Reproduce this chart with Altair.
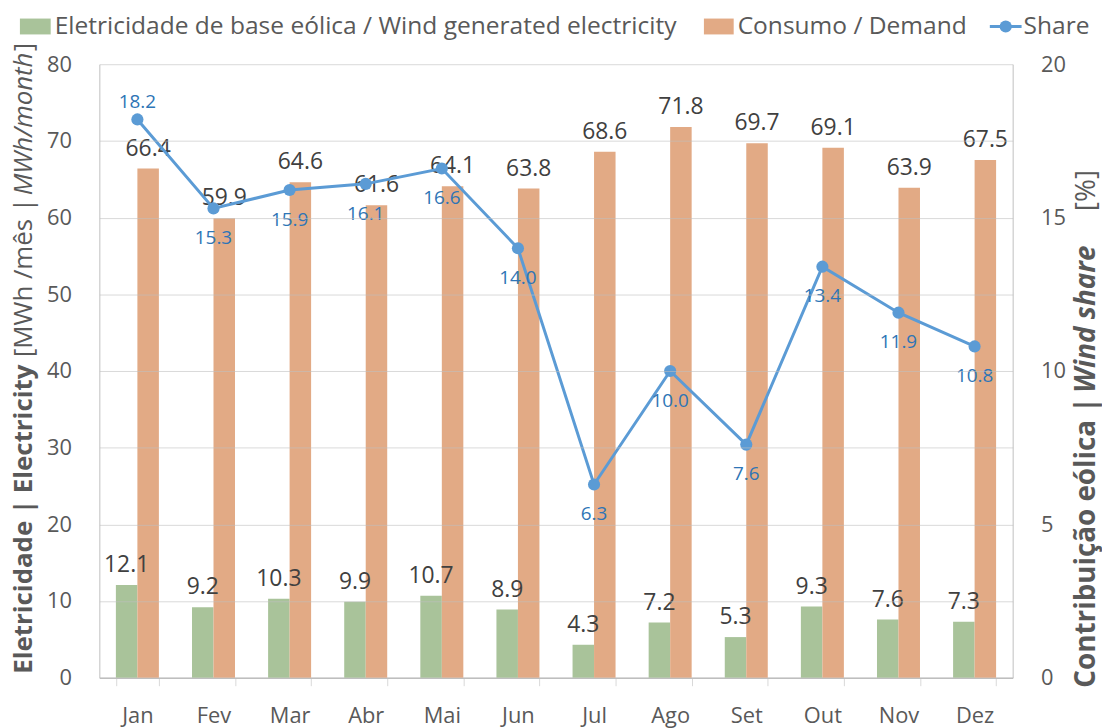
import altair as alt
import pandas as pd

months = ["Jan", "Fev", "Mar", "Abr", "Mai", "Jun", "Jul", "Ago", "Set", "Out", "Nov", "Dez"]
wind = [12.1, 9.2, 10.3, 9.9, 10.7, 8.9, 4.3, 7.2, 5.3, 9.3, 7.6, 7.3]
demand = [66.4, 59.9, 64.6, 61.6, 64.1, 63.8, 68.6, 71.8, 69.7, 69.1, 63.9, 67.5]
share = [18.2, 15.3, 15.9, 16.1, 16.6, 14.0, 6.3, 10.0, 7.6, 13.4, 11.9, 10.8]
series_names = ["Eletricidade de base eólica / Wind generated electricity", "Consumo / Demand"]
share_name = "Share"
left_ticks = [0, 10, 20, 30, 40, 50, 60, 70, 80]
right_ticks = [0, 5, 10, 15, 20]

bars_df = pd.DataFrame({
    "month": months * 2,
    "series": [series_names[0]] * len(months) + [series_names[1]] * len(months),
    "value": wind + demand,
})
share_df = pd.DataFrame({"month": months, "share": share})
one = pd.DataFrame({"k": [0]})

W, H = 920, 618
FONT = "Open Sans"
GREEN = "#A9C39A"
ORANGE = "#E2AA85"
BLUE = "#5B9BD5"
LBLUE = "#2E75B6"
GREY = "#595959"
DARK = "#404040"

x_enc = alt.X(
    "month:N", sort=months,
    scale=alt.Scale(paddingInner=0.435, paddingOuter=0.2175),
    axis=alt.Axis(title=None, labelAngle=0, tickBand="extent", labelFontSize=22,
                  labelColor=GREY, labelFont=FONT, labelPadding=20, tickSize=8,
                  tickColor="#D9D9D9", domainColor="#BFBFBF", domainWidth=1.5, grid=False),
)
xoff = alt.XOffset("series:N", sort=series_names, scale=alt.Scale(paddingInner=0, paddingOuter=0))
y_left = alt.Y(
    "value:Q", scale=alt.Scale(domain=[0, 80], nice=False),
    axis=alt.Axis(title=None, values=left_ticks, grid=True, gridColor="#BFBFBF", gridOpacity=0.6,
                  domainColor="#BFBFBF", ticks=False, labelPadding=28, labelFontSize=22,
                  labelColor=GREY, labelFont=FONT, zindex=1),
)

base_bar = alt.Chart(bars_df)
bars = base_bar.mark_bar().encode(
    x=x_enc, xOffset=xoff, y=y_left,
    color=alt.Color("series:N", sort=series_names,
                    scale=alt.Scale(domain=series_names, range=[GREEN, ORANGE]), legend=None),
)
bar_text = base_bar.mark_text(dy=-13, baseline="alphabetic", fontSize=23, font=FONT, color=DARK).encode(
    x=alt.X("month:N", sort=months), xOffset=xoff, y="value:Q",
    text=alt.Text("value:Q", format=".1f"),
)


def txt(s, x, y, size=24.7, color=GREY, weight="normal", style="normal", angle=0,
        align="left", baseline="alphabetic"):
    return alt.Chart(pd.DataFrame({"t": [s]})).mark_text(
        fontSize=size, font=FONT, color=color, fontWeight=weight, fontStyle=style,
        angle=angle, align=align, baseline=baseline,
    ).encode(x=alt.value(x), y=alt.value(y), text="t:N")


# manual legend
leg_g = alt.Chart(one).mark_rect(color=GREEN).encode(
    x=alt.value(-80), x2=alt.value(-49), y=alt.value(-46), y2=alt.value(-30))
leg_o = alt.Chart(one).mark_rect(color=ORANGE).encode(
    x=alt.value(609), x2=alt.value(639), y=alt.value(-46), y2=alt.value(-30))
leg_l = alt.Chart(one).mark_rule(color=BLUE, strokeWidth=3).encode(
    x=alt.value(897), x2=alt.value(929), y=alt.value(-38))
leg_p = alt.Chart(one).mark_circle(color=BLUE, size=150, opacity=1).encode(
    x=alt.value(913), y=alt.value(-38))
leg_t1 = txt(series_names[0], -45, -30)
leg_t2 = txt(series_names[1], 643, -30)
leg_t3 = txt(share_name, 931, -30)

# rotated axis titles (mixed styles)
lt1 = txt("Eletricidade | Electricity", -76, 614, size=26, weight="bold", angle=270, baseline="middle")
lt2 = txt("[MWh /mês |", -76, 295, size=26, angle=270, baseline="middle")
lt3 = txt("MWh/month", -76, 132, size=26, style="italic", angle=270, baseline="middle")
lt4 = txt("]", -76, -13, size=26, angle=270, baseline="middle")
rt1 = txt("Contribuição eólica |", 995, 628, size=28, weight="bold", angle=270, baseline="middle")
rt2 = txt("Wind share", 995, 331, size=28, weight="bold", style="italic", angle=270, baseline="middle")
rt3 = txt("[%]", 995, 148, size=28, angle=270, baseline="middle")

bar_layer = alt.layer(bars, bar_text, leg_g, leg_o, leg_l, leg_p, leg_t1, leg_t2, leg_t3,
                      lt1, lt2, lt3, lt4, rt1, rt2, rt3)

y_right = alt.Y(
    "share:Q", scale=alt.Scale(domain=[0, 20], nice=False),
    axis=alt.Axis(title=None, orient="right", values=right_ticks, grid=False,
                  domainColor="#BFBFBF", ticks=False, labelPadding=28, labelFontSize=22,
                  labelColor=GREY, labelFont=FONT),
)
base_s = alt.Chart(share_df)
line = base_s.mark_line(color=BLUE, strokeWidth=3).encode(x=alt.X("month:N", sort=months), y=y_right)
pts = base_s.mark_circle(color=BLUE, size=150, opacity=1).encode(x=alt.X("month:N", sort=months), y="share:Q")
s_above = base_s.transform_filter(alt.datum.month == "Jan").mark_text(
    dy=-12, baseline="alphabetic", fontSize=19, font=FONT, color=LBLUE).encode(
    x=alt.X("month:N", sort=months), y="share:Q", text=alt.Text("share:Q", format=".1f"))
s_below = base_s.transform_filter(alt.datum.month != "Jan").mark_text(
    dy=36, baseline="alphabetic", fontSize=19, font=FONT, color=LBLUE).encode(
    x=alt.X("month:N", sort=months), y="share:Q", text=alt.Text("share:Q", format=".1f"))
line_layer = alt.layer(line, pts, s_above, s_below)

chart = alt.layer(bar_layer, line_layer).resolve_scale(y="independent").properties(
    width=W, height=H,
    autosize=alt.AutoSizeParams(type="none"),
    padding={"left": 92, "top": 54, "right": 90, "bottom": 48},
).configure_view(stroke=None)

chart.save("out.html", embed_options={"renderer": "svg", "actions": False})
